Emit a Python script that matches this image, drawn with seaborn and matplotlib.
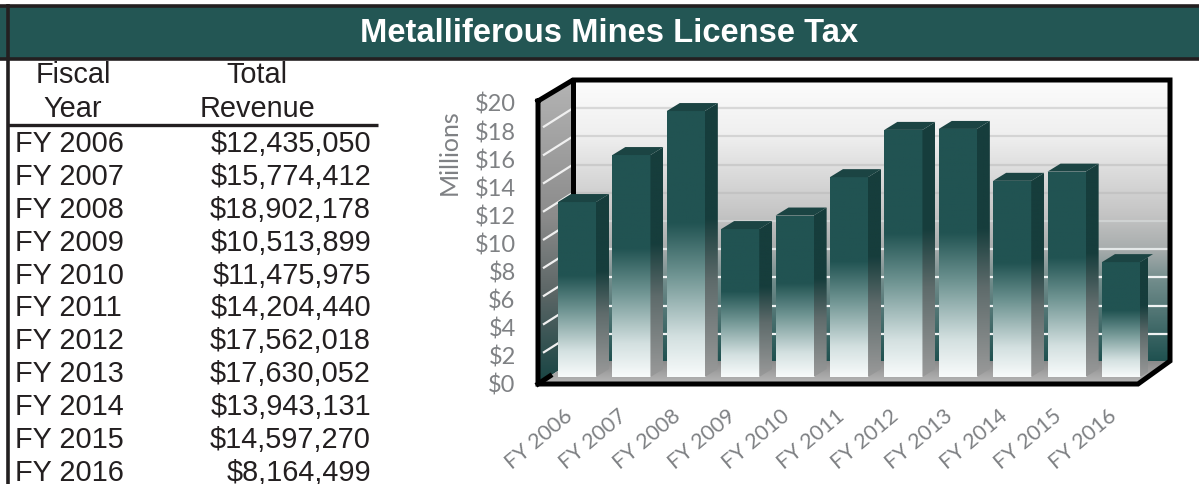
import numpy as np
import pandas as pd
import matplotlib
matplotlib.use("Agg")
import matplotlib.pyplot as plt
from matplotlib.colors import LinearSegmentedColormap as LSC
from matplotlib.patches import Polygon
import seaborn as sns

years = ["FY 2006", "FY 2007", "FY 2008", "FY 2009", "FY 2010", "FY 2011",
         "FY 2012", "FY 2013", "FY 2014", "FY 2015", "FY 2016"]
revenue = [12435050, 15774412, 18902178, 10513899, 11475975, 14204440,
           17562018, 17630052, 13943131, 14597270, 8164499]
yticks = list(range(0, 21, 2))
title = "Metalliferous Mines License Tax"

W, H = 1199, 485
TEAL = "#235654"
sns.set_theme(style="white")
fig = plt.figure(figsize=(W / 100, H / 100), dpi=100, facecolor="white")


def axes_px(x0, ytop, x1, ybot, **kw):
    return fig.add_axes([x0 / W, 1 - ybot / H, (x1 - x0) / W, (ybot - ytop) / H], **kw)


# ---------- page layer in pixel coordinates ----------
bg = axes_px(0, 0, W, H)
bg.set_axis_off()
AR = "Liberation Sans"
INK = "#231f20"


def vgrad(ax, poly_pts, stops, zorder=1):
    xs, ys = zip(*poly_pts)
    cmap = LSC.from_list("g", stops)
    im = ax.imshow(np.linspace(0, 1, 256)[:, None], cmap=cmap, vmin=0, vmax=1, aspect="auto",
                   extent=[min(xs), max(xs), max(ys), min(ys)], origin="upper", zorder=zorder)
    p = Polygon(poly_pts, closed=True, transform=ax.transData, fc="none", ec="none")
    ax.add_patch(p)
    im.set_clip_path(p)
    return im


# back wall, left wall, floor
FL, FB, FT, FR = 538, 385, 102, 1138
BL, BB, BT, BR = 573, 362, 81, 1170
vgrad(bg, [(BL, BT), (BR, BT), (BR, BB), (BL, BB)],
      [(0, "#fcfcfc"), (0.2, "#efefef"), (0.48, "#c4c4c4"), (0.6, "#a8adad"),
       (0.72, "#6f8b8a"), (1, "#1f5150")])
vgrad(bg, [(FL, FT), (BL, BT), (BL, BB), (FL, FB)],
      [(0, "#b4b4b4"), (0.45, "#8b8b8b"), (0.7, "#5c6666"), (1, "#174443")])
vgrad(bg, [(FL, FB), (BL, BB), (BR, BB), (FR, FB)],
      [(0, "#8a8a8a"), (1, "#b8b8b8")])

# wall gridlines
unit = 14.1
back_colors = {18: "#d8d8d8", 16: "#d4d4d4", 14: "#cbcbcb", 12: "#c3c3c3",
               10: "#cfd2d2", 8: "#e4e8e8", 6: "#f0f3f3", 4: "#f0f3f3", 2: "#f0f3f3"}
for v in yticks[1:-1]:
    yb = 363 - unit * v
    bg.plot([BL, BR - 2], [yb, yb], color=back_colors[v], lw=1.6, zorder=2, solid_capstyle="butt")
    bg.plot([FL + 5, BL], [yb + 19, yb], color="#f0f0f0", lw=1.6, zorder=2, solid_capstyle="butt")

# frame
fk = dict(color="black", lw=3.6, zorder=3, solid_joinstyle="miter", solid_capstyle="projecting")
bg.plot([BL, BL], [BT, BB], **fk)
bg.plot([FL, FL, FR, BR, BR, BL, FL], [FT, FB, FB, BB, BT, BT, FT], **fk)
bg.plot([FL, FL + 12], [FB, FB - 8], **fk)

# header band and rules
bg.fill_between([0, W], 7, 59, color=TEAL, lw=0, zorder=4)
bg.plot([0, W], [6.5, 6.5], color="#231f20", lw=2.6, zorder=5, solid_capstyle="butt")
bg.plot([0, W], [59.5, 59.5], color="#231f20", lw=2.6, zorder=5, solid_capstyle="butt")
bg.plot([7.5, 7.5], [5, H], color="#231f20", lw=2.6, zorder=5, solid_capstyle="butt")
bg.plot([8, 378], [125.5, 125.5], color="#231f20", lw=2.4, zorder=5, solid_capstyle="butt")
bg.text(609, 33, title, color="white", family=AR, weight="bold", fontsize=23.6,
        ha="center", va="center", zorder=6)

# table
tfs = 20.8
for cx, lines in [(73, ("Fiscal", "Year")), (257, ("Total", "Revenue"))]:
    for by, s in zip((83, 117), lines):
        bg.text(cx, by, s, family=AR, fontsize=tfs, color=INK, ha="center", va="baseline", zorder=6)
for i, (y, r) in enumerate(zip(years, revenue)):
    by = 152 + 32.9 * i
    bg.text(15, by, y, family=AR, fontsize=tfs, color=INK, ha="left", va="baseline", zorder=6)
    bg.text(371, by, f"${r:,}", family=AR, fontsize=tfs, color=INK, ha="right", va="baseline", zorder=6)
bg.set_xlim(0, W)
bg.set_ylim(H, 0)

# ---------- axis labels, aligned with the front frame ----------
GR = "#7f8184"
LA = "Lato"
LX0, LX1 = 535.8, 1134.2
lab = axes_px(LX0, 103, LX1, 384)
lab.patch.set_alpha(0)
lab.set_xlim(-0.5, 10.5)
lab.set_ylim(0, 20)
lab.set_yticks(yticks)
lab.set_yticklabels([f"${v}" for v in yticks], family=LA, fontsize=17, color=GR)
lab.set_xticks(range(len(years)))
lab.set_xticklabels(years, family=LA, fontsize=15.5, color=GR, rotation=40, ha="right",
                    rotation_mode="anchor")
lab.tick_params(axis="y", length=0, pad=14.5)
lab.tick_params(axis="x", length=0, pad=16)
lab.set_ylabel("Millions", family=LA, fontsize=18, color=GR)
lab.yaxis.set_label_coords((461 - LX0) / (LX1 - LX0), 1 - (152 - 103) / 281)
sns.despine(ax=lab, left=True, bottom=True)

# ---------- bars ----------
ax = axes_px(549.8, 96.6, 1148.2, 378)
ax.patch.set_alpha(0)
df = pd.DataFrame({"year": years, "millions": [r / 1e6 for r in revenue]})
sns.barplot(data=df, x="year", y="millions", ax=ax, width=0.70, color="white",
            saturation=1, linewidth=0, errorbar=None, zorder=2)
ax.set_xlim(-0.5, 10.5)
ax.set_ylim(0, 20)
ax.set_axis_off()

dx = 13 / 54.4
dy = 8 / 14.07
front = LSC.from_list("front", [(0, "#215352"), (0.42, "#215352"), (0.62, "#709593"),
                                (0.85, "#d3e0e0"), (1, "#f8fbfb")])
side = LSC.from_list("side", [(0, "#163d3c"), (0.42, "#163d3c"), (0.65, "#5e6b6b"), (1, "#9a9a9a")])
grad = np.linspace(0, 1, 256)[:, None]
for bar in list(ax.patches):
    x0, w, h = bar.get_x(), bar.get_width(), bar.get_height()
    x1 = x0 + w
    im = ax.imshow(grad, cmap=front, vmin=0, vmax=1, aspect="auto", origin="upper",
                   extent=[x0, x1, 0, h], zorder=3)
    im.set_clip_path(bar)
    poly = Polygon([(x1, 0), (x1 + dx, dy), (x1 + dx, h + dy), (x1, h)], closed=True,
                   transform=ax.transData, fc="none", ec="none", clip_on=False)
    ax.add_patch(poly)
    im2 = ax.imshow(grad, cmap=side, vmin=0, vmax=1, aspect="auto", origin="upper",
                    extent=[x1, x1 + dx, 0, h + dy], zorder=3)
    im2.set_clip_path(poly)
    ax.add_patch(Polygon([(x0, h), (x0 + dx, h + dy), (x1 + dx, h + dy), (x1, h)], closed=True,
                         fc="#1b4443", ec="none", zorder=4, clip_on=False))
ax.set_xlim(-0.5, 10.5)
ax.set_ylim(0, 20)

fig.savefig("out.png", dpi=100, facecolor="white")
